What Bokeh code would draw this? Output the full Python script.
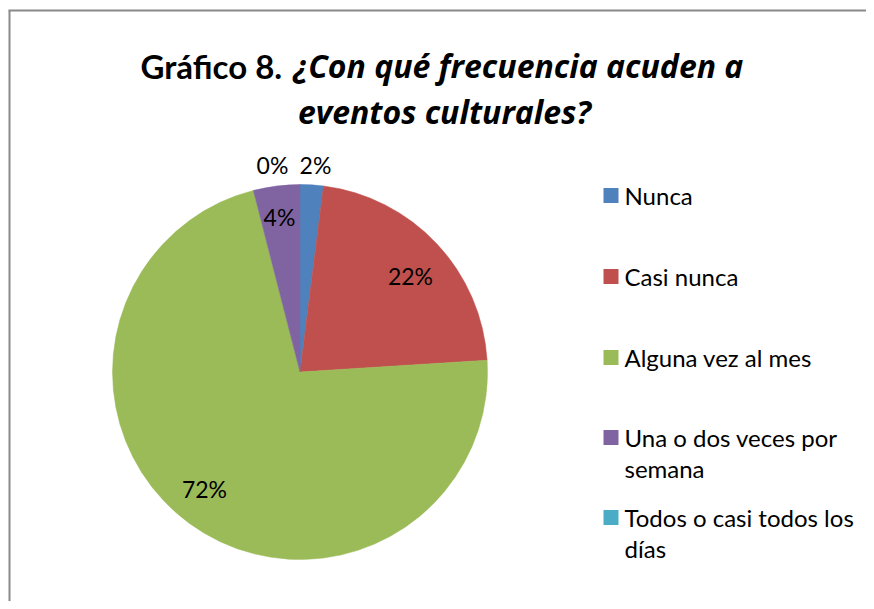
import math
from bokeh.plotting import figure
from bokeh.models import Range1d, ColumnDataSource
from bokeh.core.properties import value
from bokeh.embed import file_html
from bokeh.resources import INLINE

# ---- data ----
categories = ["Nunca", "Casi nunca", "Alguna vez al mes", "Una o dos veces por semana", "Todos o casi todos los días"]
legend_lines = [["Nunca"], ["Casi nunca"], ["Alguna vez al mes"], ["Una o dos veces por", "semana"], ["Todos o casi todos los", "días"]]
percentages = [2, 22, 72, 4, 0]
labels = ["2%", "22%", "72%", "4%", "0%"]
colors = ["#4F81BD", "#C0504D", "#9BBB59", "#8064A2", "#4BACC6"]

title_bold = "Gráfico 8."
title_italic_1 = "¿Con qué frecuencia acuden a"
title_italic_2 = "eventos culturales?"

W, H = 866, 601
FONT = "Lato"
IFONT = "Open Sans"

def Y(img_y):
    return H - img_y

p = figure(width=W, height=H, output_backend="svg", toolbar_location=None,
           x_range=Range1d(0, W), y_range=Range1d(0, H),
           min_border=0, outline_line_color=None)
p.axis.visible = False
p.grid.visible = False
p.background_fill_color = "white"
p.border_fill_color = "white"

# chart frame (cropped at right/bottom)
p.segment(x0=[9, 8], y0=[Y(10), Y(10)], x1=[9, W], y1=[Y(H), Y(10)],
          line_color="#898989", line_width=2)

# pie
cx, cy, r = 299.5, Y(371.5), 187.5
total = sum(percentages)
starts, ends, cols = [], [], []
cum = 0.0
for v, c in zip(percentages, colors):
    a0 = math.pi / 2 - 2 * math.pi * (cum + v) / total
    a1 = math.pi / 2 - 2 * math.pi * cum / total
    cum += v
    if v <= 0:
        continue
    starts.append(a0)
    ends.append(a1)
    cols.append(c)
src = ColumnDataSource(dict(start=starts, end=ends, color=cols))
p.wedge(x=cx, y=cy, radius=r, start_angle="start", end_angle="end",
        fill_color="color", line_color="color", line_width=0.5, source=src,
        direction="anticlock")

# data labels (positions)
lab_x = [315, 410, 204, 279, 272]
lab_y = [Y(164), Y(275), Y(488), Y(216), Y(164)]
p.text(x=lab_x, y=lab_y, text=labels, text_font=value(FONT), text_font_size="23px",
       text_align="center", text_baseline="middle", text_color="#000000")

# title
p.text(x=[140], y=[Y(65)], text=[title_bold], text_font=value(FONT), text_font_size="33px",
       text_font_style="bold", text_align="left", text_baseline="alphabetic", text_color="#000000")
p.text(x=[293], y=[Y(65)], text=[title_italic_1], text_font=value(IFONT), text_font_size="32px",
       text_font_style="bold italic", text_align="left", text_baseline="alphabetic", text_color="#000000")
p.text(x=[444], y=[Y(111)], text=[title_italic_2], text_font=value(IFONT), text_font_size="32px",
       text_font_style="bold italic", text_align="center", text_baseline="alphabetic", text_color="#000000")

# legend
row_y = [195, 276, 357, 437, 517]
p.rect(x=[610.5] * 5, y=[Y(v) for v in row_y], width=15, height=15,
       fill_color=colors, line_color=None)
tx, ty, tt = [], [], []
for yy, lines in zip(row_y, legend_lines):
    for k, line in enumerate(lines):
        tx.append(624)
        ty.append(Y(yy + 31 * k))
        tt.append(line)
p.text(x=tx, y=ty, text=tt, text_font=value(FONT), text_font_size="24px",
       text_align="left", text_baseline="middle", text_color="#000000")

open("out.html", "w").write(file_html(p, INLINE))
